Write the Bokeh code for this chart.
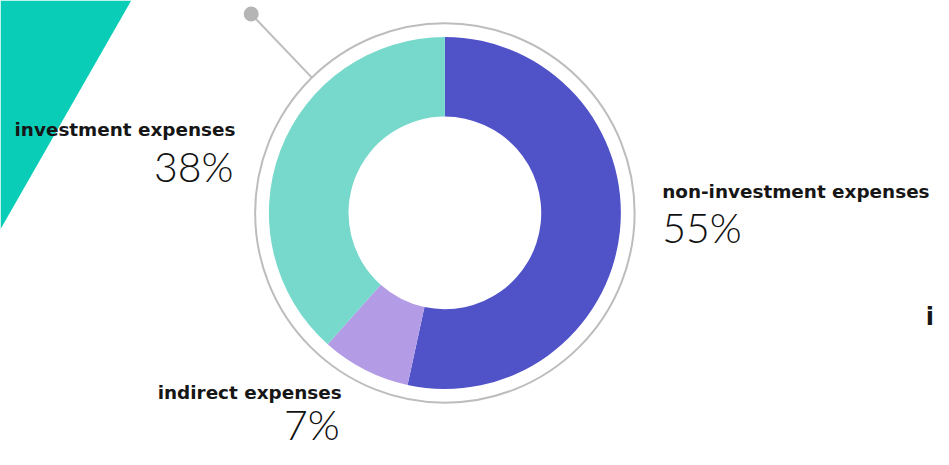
from bokeh.plotting import figure
from bokeh.models import Range1d
from bokeh.core.properties import value
from bokeh.embed import file_html
from bokeh.resources import INLINE
import numpy as np

# ---- data ----
categories = ["non-investment expenses", "indirect expenses", "investment expenses"]
shares = [53.4, 8.2, 38.4]          # slice sizes as drawn
share_labels = ["55%", "7%", "38%"]  # labels as printed
colors = ["#5052C8", "#B39CE5", "#76D9CC"]

RW, RH = 949, 465          # reference canvas size (layout units)
W, H = 933, 449            # figure size in pixels
sx, sy = W / RW, H / RH

p = figure(width=W, height=H, output_backend="svg", toolbar_location=None,
           x_range=Range1d(0, RW), y_range=Range1d(0, RH), min_border=0)
p.axis.visible = False
p.grid.visible = False
p.outline_line_color = None
p.background_fill_color = "white"

def Y(py):
    return RH - py

def B(py, size):
    # baseline position with a small correction for the renderer's offset
    return Y(py) + 0.4 * size / sy

# decorative teal triangle
p.patch([0, 133, 0], [Y(0), Y(0), Y(237)], color="#0ACDB8", line_color=None)

cx, cy = 452, Y(220)
r_out, r_in, r_ring = 179, 98, 193

# donut
fr = np.array(shares) / sum(shares)
cum = np.concatenate([[0], np.cumsum(fr)])
starts = np.pi / 2 - 2 * np.pi * cum[:-1]
ends = np.pi / 2 - 2 * np.pi * cum[1:]
p.annular_wedge(x=[cx] * 3, y=[cy] * 3, inner_radius=r_in, outer_radius=r_out,
                start_angle=list(starts), end_angle=list(ends), direction="clock",
                fill_color=colors, line_color=None)

# outer grey ring
p.circle(x=[cx], y=[cy], radius=r_ring, fill_color=None, line_color="#BDBDBD", line_width=2)

# pointer line with dot
ang = np.deg2rad(180 - 45.5)
x0 = cx + r_ring * np.cos(ang)
y0 = cy + r_ring * sx * np.sin(ang) / sy
p.line([255, x0], [Y(14), y0], line_color="#BDBDBD", line_width=2)
p.scatter([255], [Y(14)], size=15, color="#B5B5B5", line_color=None)

label_font = value("DejaVu Sans")
pct_font = value("Lato Light")
LS, PS = 18.4, 41

# labels
p.text(x=[239, 673, 347], y=[B(141, LS), B(205, LS), B(414, LS)],
       text=[categories[2], categories[0], categories[1]],
       text_font=label_font, text_font_size=f"{LS}px", text_font_style="bold",
       text_color="#161616",
       text_align=["right", "left", "right"], text_baseline="alphabetic")
p.text(x=[237, 673, 345], y=[B(189, PS), B(252, PS), B(456, PS)],
       text=[share_labels[2], share_labels[0], share_labels[1]],
       text_font=pct_font, text_font_size=f"{PS}px", text_color="#111111",
       text_align=["right", "left", "right"], text_baseline="alphabetic")

# partially visible label at the right edge
p.text(x=[941], y=[B(338, 24)], text=["i"], text_font=label_font,
       text_font_size="24px", text_font_style="bold", text_color="#161616",
       text_align="left", text_baseline="alphabetic")

open("out.html", "w").write(file_html(p, INLINE))
